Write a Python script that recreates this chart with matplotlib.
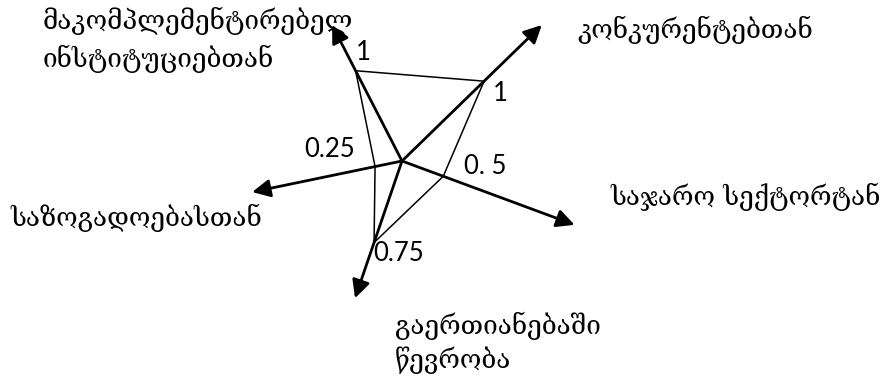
import numpy as np
import matplotlib
matplotlib.use("Agg")
import matplotlib.pyplot as plt

# axis names (clockwise from top-left) and the values marked on them
categories = [
    "მაკომპლემენტირებელ\nინსტიტუციებთან",
    "კონკურენტებთან",
    "საჯარო სექტორტან",
    "გაერთიანებაში\nწევრობა",
    "საზოგადოებასთან",
]
values = [1, 1, 0.5, 0.75, 0.25]
value_labels = ["1", "1", "0. 5", "0.75", "0.25"]

# layout of the hand drawn diagram (pixel space, y down)
center = np.array([402.0, 161.0])
angles = [117.2, 44.2, -20.3, -108.9, 191.7]      # degrees, math convention
arrow_len = [153, 195, 184, 145, 153]
unit_len = [101.5, 114.5, 88, 115, 110]           # radius for value 1 on each axis
val_offset = [(8, -18), (16, 12), (42, -10), (25, 11), (-45, -17)]
cat_pos = [(43, 40), (577, 30), (610, 197), (395, 343), (10, 218)]
cat_spacing = [1.45, 1.3, 1.3, 1.3, 1.3]

GEO = ["DejaVu Serif", "DejaVu Sans"]
NUM = ["Lato", "DejaVu Sans"]

fig = plt.figure(figsize=(8.91, 3.81), dpi=100)
ax = fig.add_axes([0, 0, 1, 1])
ax.set_xlim(0, 891)
ax.set_ylim(381, 0)
ax.axis("off")

dirs = [np.array([np.cos(np.radians(a)), -np.sin(np.radians(a))]) for a in angles]

# value polygon
pts = np.array([center + v * u * d for v, u, d in zip(values, unit_len, dirs)])
poly = np.vstack([pts, pts[:1]])
ax.plot(poly[:, 0], poly[:, 1], color="black", lw=1.1, zorder=2)

# axes as arrows
for d, L in zip(dirs, arrow_len):
    tip = center + L * d
    ax.annotate("", xy=tip, xytext=center,
                arrowprops=dict(arrowstyle="-|>,head_length=0.6,head_width=0.3",
                                mutation_scale=18, lw=2, color="black",
                                shrinkA=0, shrinkB=0), zorder=3)

for p, lab, off in zip(pts, value_labels, val_offset):
    ax.text(p[0] + off[0], p[1] + off[1], lab, family=NUM, fontsize=18.5,
            ha="center", va="center")

for (x, y), name, ls in zip(cat_pos, categories, cat_spacing):
    ax.text(x, y, name, family=GEO, fontsize=18.8, ha="left", va="center",
            linespacing=ls)

fig.savefig("out.png", dpi=100)
